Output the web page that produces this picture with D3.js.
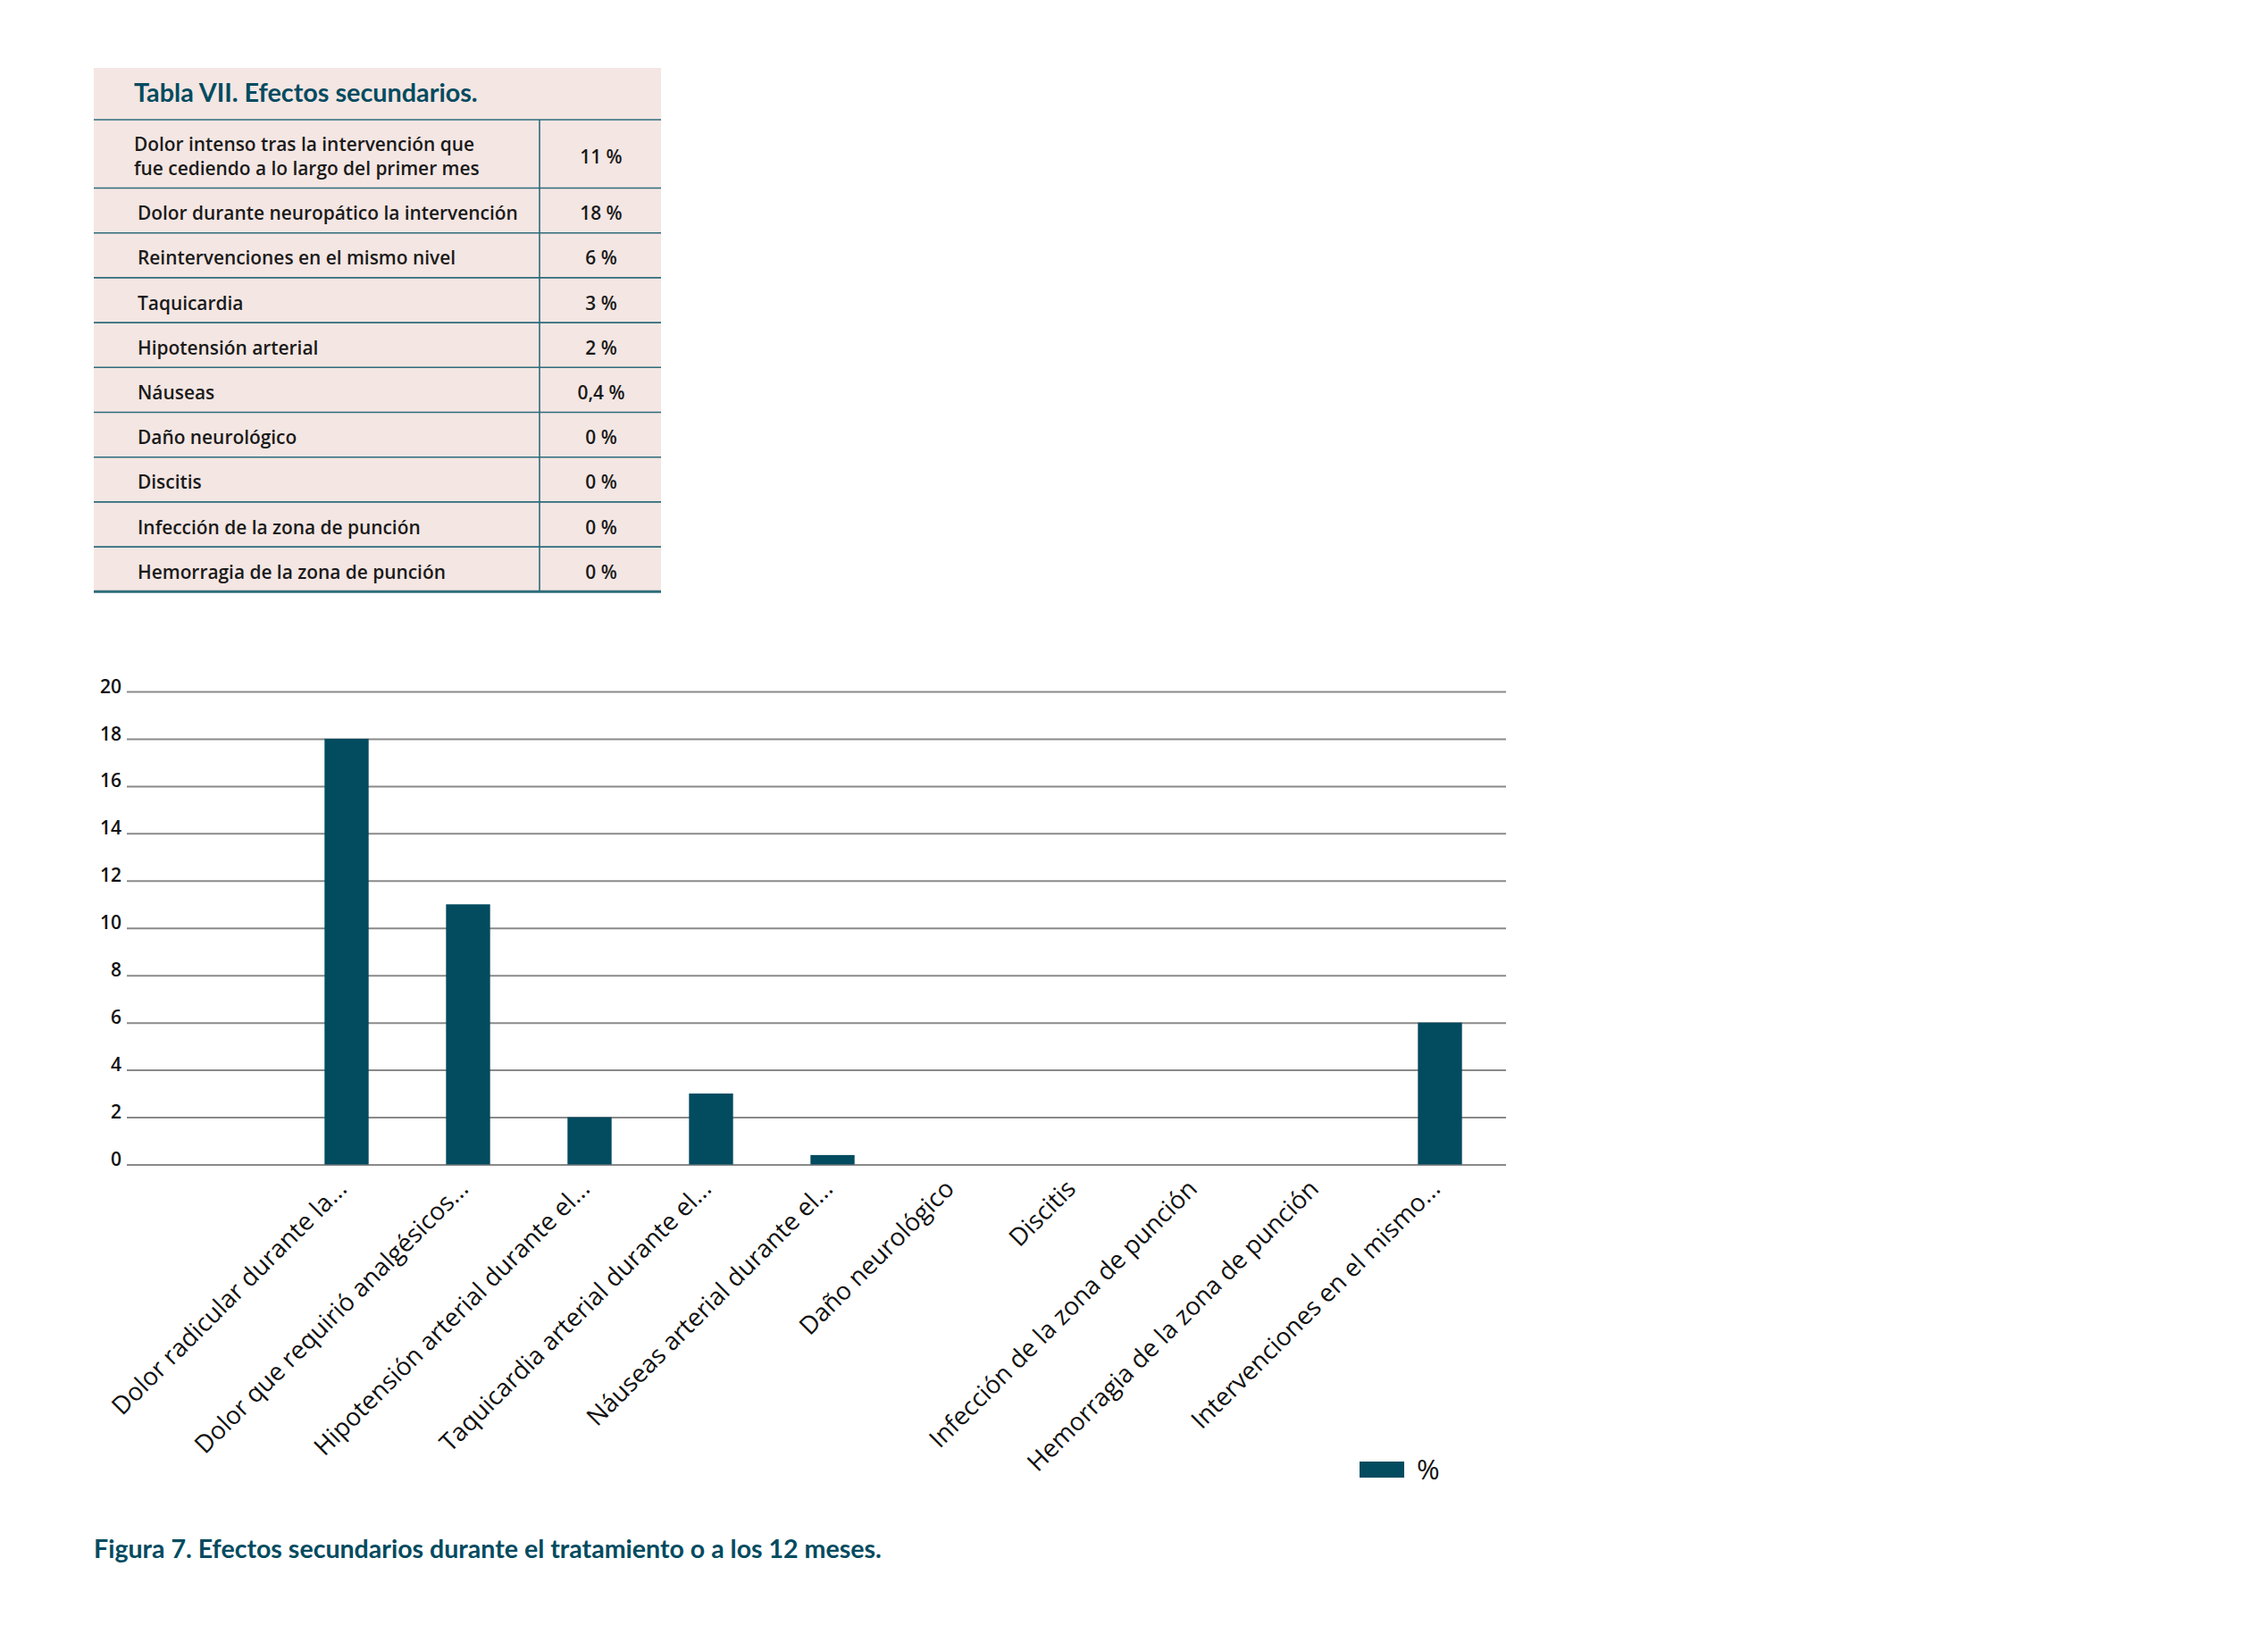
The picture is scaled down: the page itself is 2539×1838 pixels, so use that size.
<!DOCTYPE html>
<html><head><meta charset="utf-8">
<script src="https://cdn.jsdelivr.net/npm/d3@7/dist/d3.min.js"></script>
<style>body{margin:0;background:#fff}svg{display:block}</style>
</head><body><svg id="c" width="2539" height="1838"></svg>
<script>
// ---- data ----
const tableTitle = "Tabla VII. Efectos secundarios.";
const tableLabels = [
  ["Dolor intenso tras la intervención que", "fue cediendo a lo largo del primer mes"],
  ["Dolor durante neuropático la intervención"],
  ["Reintervenciones en el mismo nivel"],
  ["Taquicardia"],
  ["Hipotensión arterial"],
  ["Náuseas"],
  ["Daño neurológico"],
  ["Discitis"],
  ["Infección de la zona de punción"],
  ["Hemorragia de la zona de punción"]
];
const tableValues = ["11 %", "18 %", "6 %", "3 %", "2 %", "0,4 %", "0 %", "0 %", "0 %", "0 %"];

const categories = [
  "Dolor radicular durante la...",
  "Dolor que requirió analgésicos...",
  "Hipotensión arterial durante el...",
  "Taquicardia arterial durante el...",
  "Náuseas arterial durante el...",
  "Daño neurológico",
  "Discitis",
  "Infección de la zona de punción",
  "Hemorragia de la zona de punción",
  "Intervenciones en el mismo..."
];
const values = [18, 11, 2, 3, 0.4, 0, 0, 0, 0, 6];
const yTicks = [0, 2, 4, 6, 8, 10, 12, 14, 16, 18, 20];
const seriesName = "%";
const caption = "Figura 7. Efectos secundarios durante el tratamiento o a los 12 meses.";

// ---- style ----
const TEAL = "#034b5f";
const PINK = "#f4e6e3";
const LINE = "#2d6b7b";
const HEAD = "Lato, 'Open Sans', sans-serif";
const BODY = "'Open Sans', sans-serif";

const svg = d3.select("#c");
svg.append("rect").attr("width", 2539).attr("height", 1838).attr("fill", "#fff");

// choose a font size so that a sample string spans a target width
function fitSize(str, family, weight, target) {
  const t = svg.append("text").attr("font-family", family).attr("font-weight", weight)
    .attr("font-size", 100).text(str);
  const w = t.node().getComputedTextLength();
  t.remove();
  return 100 * target / w;
}

const titleSize = fitSize(tableTitle, HEAD, 700, 385);
const bodySize = fitSize(tableLabels[1][0], BODY, 600, 426);
const capSize = fitSize(caption, HEAD, 700, 882);
const labelSize = fitSize(categories[0], BODY, 500, 358);

// ---- table ----
const tX0 = 105, tX1 = 740, tDiv = 604, tTop = 76, tHeadBot = 134;
const rowH = [76.5, 50.2, 50.2, 50.2, 50.2, 50.2, 50.2, 50.2, 50.2, 50.2];
const rowTops = [];
let acc = tHeadBot;
rowH.forEach(h => { rowTops.push(acc); acc += h; });
const tBot = acc;

const tg = svg.append("g");
tg.append("rect").attr("x", tX0).attr("y", tTop).attr("width", tX1 - tX0).attr("height", tBot - tTop).attr("fill", PINK);
tg.append("text").attr("x", 150).attr("y", 114).attr("fill", TEAL)
  .attr("font-family", HEAD).attr("font-weight", 700).attr("font-size", titleSize).text(tableTitle);
tg.append("line").attr("x1", tX0).attr("x2", tX1).attr("y1", tHeadBot).attr("y2", tHeadBot)
  .attr("stroke", LINE).attr("stroke-width", 1.6);
tg.append("line").attr("x1", tDiv).attr("x2", tDiv).attr("y1", tHeadBot).attr("y2", tBot)
  .attr("stroke", LINE).attr("stroke-width", 1.6);

tableLabels.forEach((lines, i) => {
  const top = rowTops[i], h = rowH[i], cy = top + h / 2 + 3;
  const lh = 27;
  lines.forEach((ln, j) => {
    tg.append("text").attr("x", lines.length > 1 ? 150 : 154)
      .attr("y", cy + (j - (lines.length - 1) / 2) * lh)
      .attr("dy", "0.36em").attr("fill", "#1a1a1a")
      .attr("font-family", BODY).attr("font-weight", 600).attr("font-size", bodySize).text(ln);
  });
  tg.append("text").attr("x", 673).attr("y", cy).attr("dy", "0.36em").attr("text-anchor", "middle")
    .attr("fill", "#1a1a1a").attr("font-family", BODY).attr("font-weight", 600).attr("font-size", bodySize)
    .text(tableValues[i]);
  const yb = top + h;
  tg.append("line").attr("x1", tX0).attr("x2", tX1).attr("y1", yb).attr("y2", yb)
    .attr("stroke", LINE).attr("stroke-width", i === tableLabels.length - 1 ? 3 : 1.6);
});

// ---- chart ----
const gx0 = 142, gx1 = 1686;
const y = d3.scaleLinear().domain([0, 20]).range([1303.5, 774]);
const x = d3.scaleBand().domain(categories).range([320, 1680]).paddingInner(0.637).paddingOuter(0.3185);

const yAxis = svg.append("g").attr("transform", `translate(${gx0},0)`)
  .call(d3.axisLeft(y).tickValues(yTicks).tickSize(-(gx1 - gx0)).tickPadding(6).tickFormat(d3.format("d")));
yAxis.select(".domain").remove();
yAxis.selectAll(".tick line").attr("stroke", "#8a8a8a").attr("stroke-width", 2);
yAxis.selectAll(".tick text").attr("fill", "#111").attr("font-family", BODY)
  .attr("font-weight", 600).attr("font-size", 21).attr("dy", "0.05em");

svg.append("g").selectAll("rect").data(values).join("rect")
  .attr("x", (d, i) => x(categories[i]))
  .attr("width", x.bandwidth())
  .attr("y", d => y(d))
  .attr("height", d => y(0) - y(d))
  .attr("fill", TEAL);

const xAxis = svg.append("g").attr("transform", `translate(0,${y(0)})`)
  .call(d3.axisBottom(x).tickSize(0).tickPadding(0));
xAxis.select(".domain").remove();
xAxis.selectAll(".tick text")
  .attr("fill", "#111").attr("font-family", BODY).attr("font-weight", 500)
  .attr("font-size", labelSize).attr("text-anchor", "end")
  .attr("y", 0).attr("dy", "0.35em")
  .attr("transform", "translate(-5,22) rotate(-45)");

// legend
const lg = svg.append("g").attr("transform", "translate(1522,1636)");
lg.append("rect").attr("width", 50).attr("height", 18).attr("fill", TEAL);
lg.append("text").attr("x", 64).attr("y", 9).attr("dy", "0.36em").attr("fill", "#111")
  .attr("font-family", BODY).attr("font-size", 31).text(seriesName);

// caption
svg.append("text").attr("x", 105).attr("y", 1744).attr("fill", TEAL)
  .attr("font-family", HEAD).attr("font-weight", 700).attr("font-size", capSize).text(caption);
</script>
</body></html>
